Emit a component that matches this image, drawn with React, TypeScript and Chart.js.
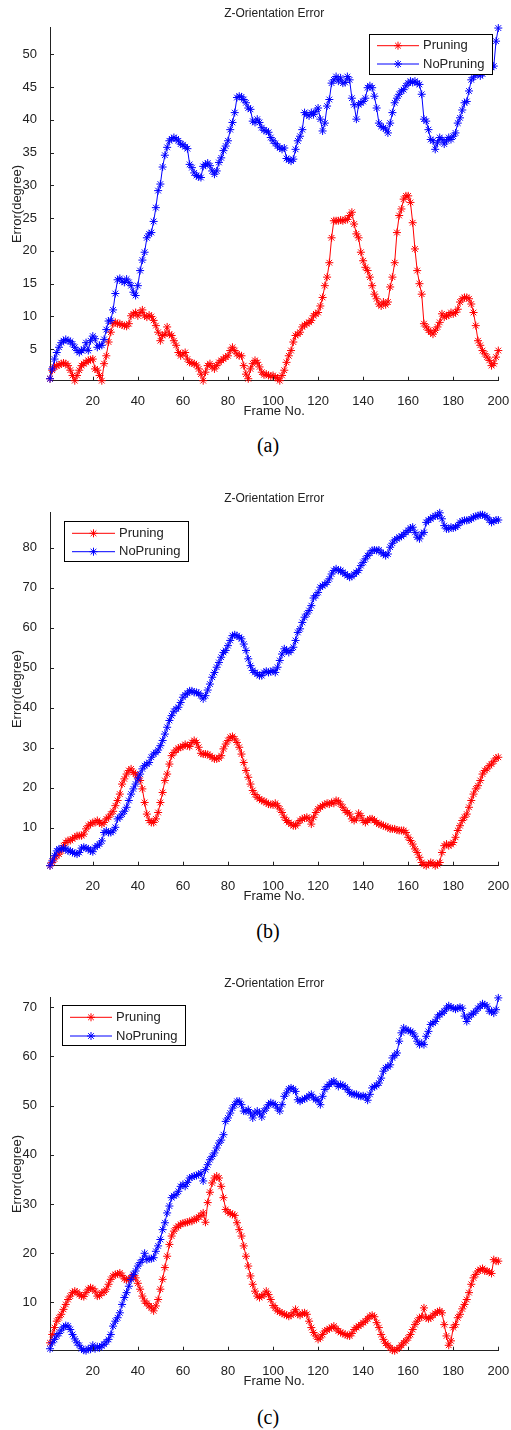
import React, { useEffect, useRef } from 'react';
import { Chart, registerables } from 'chart.js';

Chart.register(...registerables);

// ---------- data ----------
const FRAMES: number[] = Array.from({ length: 200 }, (_, i) => i + 1);
const X_TICKS = [20, 40, 60, 80, 100, 120, 140, 160, 180, 200];
const A_Y_TICKS = [5, 10, 15, 20, 25, 30, 35, 40, 45, 50];
const B_Y_TICKS = [10, 20, 30, 40, 50, 60, 70, 80];
const C_Y_TICKS = [10, 20, 30, 40, 50, 60, 70];
const SERIES_LABELS = ['Pruning', 'NoPruning'];
const CHART_TITLE = 'Z-Orientation Error';
const X_TITLE = 'Frame No.';
const Y_TITLE = 'Error(degree)';
const CAPTIONS = ['(a)', '(b)', '(c)'];

const A_PRUNING = [
  0.5, 1.8, 2.3, 2.5, 2.6, 2.8, 2.9, 2.8, 2.5, 1.8,
  1, 0.2, 1, 1.8, 2.5, 2.8, 3, 3.3, 3.4, 3.5,
  2, 1.8, 1, 0.2, 2.8, 4, 6.1, 7.6, 8.9, 9.1,
  8.9, 8.9, 8.7, 8.6, 8.5, 8.9, 10.1, 10.4, 10.6, 10.1,
  10.6, 11, 10.1, 9.9, 10.2, 10, 9.4, 8.6, 7.6, 6.3,
  7.1, 7.3, 8.4, 7.3, 7.1, 6.3, 5.6, 4.5, 4, 4.3,
  4.5, 3.5, 3, 2.9, 2.8, 2.6, 2, 1.2, 0.2, 1.5,
  2.5, 2.8, 2.3, 2, 2.5, 3, 3.3, 3.5, 3.8, 4,
  4.8, 5.3, 4.8, 4.3, 4, 4, 2.5, 1.2, 0.5, 2,
  2.8, 3.3, 3, 2.3, 1.5, 1.1, 1.2, 1, 0.9, 1,
  0.7, 0.6, 0.2, 1, 1.8, 3, 4, 4.8, 6.1, 7.1,
  7.3, 7.6, 8.4, 8.7, 8.9, 9.1, 9.4, 10.1, 10.4, 10.6,
  11.6, 12.9, 14.7, 16, 18.2, 22, 24.6, 24.6, 24.6, 24.7,
  24.6, 24.8, 24.8, 25.4, 25.9, 24.1, 22.6, 22, 19.8, 18.5,
  17.5, 17, 16, 14.7, 13.4, 12.7, 11.9, 11.6, 12.2, 11.8,
  12.2, 14.5, 16, 18.2, 22.8, 25.4, 26.4, 27.9, 28.4, 28.4,
  27.4, 24.3, 20.3, 17, 15, 13.4, 8.9, 8.4, 7.9, 7.6,
  7.3, 7.9, 8.4, 9.1, 10.4, 9.9, 10.1, 10.2, 10.6, 10.4,
  10.6, 11.1, 12.2, 12.7, 12.9, 12.9, 12.7, 11.9, 10.6, 8.6,
  6.3, 5.6, 4.8, 4.3, 3.8, 3.3, 2.5, 2.8, 3.8, 4.8,
];
const A_NOPRUNING = [
  0.5, 2, 3.5, 4.5, 5.3, 6, 6.3, 6.5, 6.3, 6.2,
  5.8, 5.3, 4.8, 4.5, 4.8, 5, 6, 4.8, 6.3, 7,
  6.6, 5.3, 5.6, 5.6, 6.5, 8, 9.3, 9.4, 11, 13.5,
  15.6, 15.8, 15.4, 15.2, 15.7, 15.2, 14.7, 13.7, 13.2, 14.7,
  17, 18.6, 19.8, 22, 22.6, 22.8, 24.5, 26.6, 29.2, 30.2,
  32.8, 34.6, 35.8, 36.8, 37.1, 37.3, 37.1, 36.8, 36.3, 36.2,
  35.9, 35.6, 33.2, 32.7, 31.9, 31.5, 31.3, 31.2, 32.9, 33.2,
  33.4, 33, 32.2, 31.7, 32.2, 33.5, 34.2, 35.3, 36, 36.8,
  38.5, 39.6, 41.1, 43.4, 43.6, 43.5, 43.1, 42.6, 41.8, 41.6,
  39.8, 39.6, 40.1, 39.6, 38.8, 38.4, 38.3, 38.1, 37.3, 36.8,
  36.4, 36, 35.7, 35.5, 35.7, 34.1, 33.9, 33.7, 34, 35.5,
  36.8, 37.5, 38.5, 41.1, 40.8, 40.6, 41.1, 40.8, 41.3, 41.8,
  40.1, 38.3, 39.5, 42.1, 43.1, 45.6, 46.1, 46.6, 45.9, 46.4,
  45.6, 45.7, 46.6, 46.1, 43.3, 42.3, 40.1, 42.3, 42.6, 42.8,
  43.3, 44.9, 45.2, 44.9, 43.6, 41.8, 39.5, 39, 38.8, 38.6,
  38, 39.5, 41.1, 42.6, 43.3, 43.9, 44.4, 44.6, 45.2, 45.6,
  45.9, 45.7, 45.9, 45.6, 45.4, 43.9, 40.1, 39.8, 38.5, 37,
  36.8, 35.5, 36.5, 37.3, 37, 36.3, 36.8, 37.3, 37, 37.5,
  38, 39.5, 40.3, 41.5, 42.6, 42.8, 44.4, 46.1, 46.5, 47,
  47, 46.7, 47, 47.5, 47.5, 48, 48, 48.2, 52, 54,
];

const B_PRUNING = [
  0.5, 1.3, 2.2, 3, 3.4, 4.2, 5.5, 6.3, 6.8, 6.8,
  7.2, 7.6, 8, 8, 8, 8.4, 9.7, 10.5, 10.9, 11.3,
  11.3, 11.8, 11.3, 10.9, 11.3, 12.2, 12.6, 13.4, 14.1, 15.5,
  16.8, 18.4, 20.9, 22.2, 23.4, 24.3, 24.7, 23.8, 23.4, 22.6,
  21.8, 19.7, 16.3, 13.4, 11.8, 11.3, 11.3, 12.2, 13.8, 16.3,
  18.8, 21.8, 23.4, 25.9, 28, 28.8, 29.4, 29.9, 30.1, 30.3,
  30.8, 30.5, 30.3, 31.3, 31.8, 31.3, 30.1, 28.6, 28.4, 28.4,
  28.3, 28, 27.6, 27.2, 27.2, 27.4, 28, 29.7, 30.9, 31.8,
  32.6, 32.8, 32.2, 31.3, 30.1, 28.4, 26.3, 24.3, 22.6, 20.9,
  19.3, 18.3, 17.6, 17.2, 16.8, 16.6, 16.3, 15.9, 15.8, 15.7,
  16.1, 15.5, 14.7, 13.8, 12.6, 11.8, 11.3, 10.9, 10.5, 10.5,
  11.1, 11.8, 12.2, 12.4, 12.6, 12.2, 10.9, 12.6, 13.8, 14.7,
  15.1, 15.5, 15.8, 16.1, 15.9, 16.3, 16.1, 16.8, 16.6, 15.9,
  15.1, 14.3, 13.8, 13.4, 12.2, 11.8, 12.2, 13.6, 13, 11.8,
  11.3, 11.8, 12.2, 12.2, 11.8, 11.3, 10.9, 10.8, 10.5, 10.3,
  10.1, 9.7, 9.7, 9.7, 9.4, 9.3, 9.3, 9.3, 8.8, 7.6,
  6.8, 5.9, 4.7, 3.8, 2.6, 1.3, 0.8, 0.5, 0.9, 1.3,
  1.1, 0.5, 0.8, 1.3, 3.8, 5.5, 5.9, 5.5, 5.8, 6.3,
  7.6, 9.3, 10.5, 11.8, 12.6, 13.4, 15.1, 16.8, 18.4, 19.7,
  20.5, 21.8, 23.4, 24.3, 24.7, 25.5, 25.9, 26.6, 27.4, 27.6,
];
const B_NOPRUNING = [
  0.5, 1.7, 3, 4.2, 4.7, 4.7, 4.9, 4.7, 4.2, 4.2,
  3.8, 3.6, 3.4, 3.8, 4.9, 5.1, 4.9, 4.7, 4.2, 4,
  5.1, 5.5, 5.9, 6.7, 8.8, 9.2, 8.8, 8.8, 9.2, 10.1,
  12.2, 12.6, 13.4, 14.1, 15.1, 16.8, 18.4, 19.7, 20.9, 22.2,
  23.4, 24.7, 25.5, 25.9, 26.3, 27.6, 28.4, 28.8, 29.4, 30.5,
  31.8, 33.4, 35.1, 36.8, 38, 39.1, 39.7, 40.1, 41.3, 42.6,
  43.2, 43.6, 44.2, 44.2, 43.8, 43.8, 43.6, 43, 42.2, 43,
  44.4, 45.9, 47.6, 48.8, 50.1, 51.3, 52.6, 53.8, 54.3, 55.5,
  56.8, 58, 58.2, 58, 57.6, 57.2, 55.9, 54.3, 52.2, 50.5,
  49.3, 48.8, 48.4, 48, 48, 48.8, 49.1, 48.8, 49, 49.3,
  48.8, 50.1, 51.8, 53.4, 54.7, 54.3, 53.8, 54.3, 55.1, 56.8,
  58.8, 59.7, 61.3, 62.6, 63.4, 64.3, 65.5, 67.4, 68, 68.8,
  70.1, 70.5, 70.8, 71.3, 72.2, 73.4, 74.3, 74.7, 74.3, 74.3,
  73.8, 73.4, 73, 72.6, 72.8, 73.4, 73.8, 74.3, 75.5, 76.3,
  77.2, 78, 78.6, 79.3, 79.4, 79.3, 79.4, 78.8, 78.4, 78,
  78.4, 80.1, 81.1, 81.9, 82.2, 82.6, 82.8, 83.3, 83.8, 84.3,
  84.9, 85.1, 83.8, 82.6, 82.2, 83.4, 83.8, 86.3, 86.9, 87.2,
  87.6, 88, 88, 88.7, 87.2, 85.5, 84.7, 84.7, 85.1, 84.9,
  85.1, 85.5, 86.3, 86.6, 86.8, 86.8, 86.9, 87.2, 87.6, 87.8,
  88, 88.2, 88.2, 88, 87.6, 86.9, 86.3, 86.6, 86.9, 86.9,
];

const C_PRUNING = [
  1.8, 3.5, 4.9, 6.2, 6.9, 7.6, 8.6, 9.6, 10.6, 11.3,
  12, 12.3, 12.1, 11.6, 11.3, 11.2, 12, 12.7, 13, 12.8,
  12.3, 11.3, 11.4, 12, 12.1, 12.7, 13.7, 14.7, 15.4, 15.7,
  15.8, 16, 15.5, 14.8, 14.6, 14.7, 15, 15.5, 15, 13.9,
  12.7, 11.3, 10.3, 9.8, 9.3, 8.9, 8.3, 9.3, 10.6, 12.7,
  14.7, 17.1, 19.4, 21.8, 23.5, 24.5, 25.2, 25.5, 25.9, 26.1,
  26.2, 26.3, 26.5, 26.5, 26.9, 26.9, 27.4, 27.7, 28.2, 26.3,
  30.3, 32.4, 34.3, 35.3, 35.7, 35.3, 33.6, 31.3, 28.9, 28.4,
  28.1, 27.9, 27.7, 26.2, 24.8, 23.5, 21.5, 19.4, 17.4, 15.4,
  13.7, 12.3, 11.3, 11, 11.3, 11.6, 12.3, 11.6, 10.6, 9.4,
  8.9, 8.3, 8.1, 7.8, 7.6, 7.4, 7.2, 7.4, 7.9, 8.6,
  7.6, 7.4, 7.8, 7.9, 7.6, 6.2, 4.9, 3.9, 3.2, 2.5,
  2.8, 3.5, 4.2, 4.4, 4.7, 4.9, 5.2, 4.7, 4.2, 3.9,
  3.7, 3.5, 3.3, 3.2, 3.7, 4.5, 4.9, 5.2, 5.5, 5.9,
  6.2, 6.7, 7.2, 7.4, 7.1, 5.9, 4.9, 3.5, 2.5, 1.7,
  1.3, 0.8, 0.3, 0.2, 0.5, 0.8, 1.3, 1.8, 2.2, 2.8,
  3.5, 4.5, 5.5, 6.2, 6.9, 7.1, 8.9, 6.9, 6.7, 6.9,
  7.4, 7.8, 8.1, 8.3, 7.9, 5.5, 3.2, 1.3, 2.2, 4.9,
  5.5, 6.9, 7.6, 8.7, 9.6, 10.6, 12, 13.7, 15, 15.7,
  16.4, 16.7, 16.9, 16.4, 16.4, 16.2, 15.9, 18.7, 18.4, 18.4,
];
const C_NOPRUNING = [
  0.6, 1.8, 2.5, 3.2, 3.7, 4.4, 5, 5.3, 5.2, 4.5,
  3.5, 2.6, 1.8, 1.3, 0.6, 0.3, 0.2, 0.6, 0.5, 1.3,
  0.6, 1, 0.8, 1.2, 1.5, 2, 2.5, 3.5, 5.2, 6.2,
  6.9, 7.9, 9.6, 11, 12, 13.3, 14.7, 15.7, 16.4, 17.4,
  18.1, 18.7, 20, 18.7, 18.9, 18.9, 19.1, 20.4, 21.5, 22.8,
  24.8, 26.2, 28.2, 29.6, 31.3, 31.7, 31.9, 32.6, 33.6, 34,
  33.6, 34.4, 35.3, 35.5, 35.7, 35.8, 36, 36.3, 34.7, 37,
  38, 39, 39.7, 40.4, 41.4, 42.4, 43, 44.1, 46.8, 47.5,
  48.5, 49.5, 50.2, 50.9, 50.9, 50.2, 48.9, 48.9, 49.2, 48.5,
  47.5, 48.5, 48.9, 48.5, 47.7, 48.9, 49.5, 50.2, 50.6, 50.4,
  50.2, 49.5, 48.9, 50.2, 51.9, 52.6, 53.4, 53.6, 53.4, 52.9,
  51.2, 50.9, 51.2, 51.4, 51.6, 52, 52.3, 51.6, 51.2, 51.1,
  50.2, 51.9, 53.3, 53.9, 54.3, 54.8, 55, 54.5, 53.9, 54.3,
  54.1, 53.8, 53.3, 52.7, 52.4, 52.3, 52.3, 52, 51.9, 52,
  51.8, 51.1, 52.3, 53.6, 53.9, 54.1, 54.6, 55.6, 57, 57.7,
  57.9, 58.3, 59.7, 60.2, 60.7, 63.1, 64.8, 65.8, 65.4, 65.3,
  65.1, 64.8, 64.1, 63.1, 62.4, 62.7, 62.4, 64.1, 65.1, 66.5,
  66.8, 67.1, 68, 68.5, 68.8, 69.2, 69.8, 70.3, 70, 69.8,
  69.6, 69.8, 70, 69.8, 68.2, 67.1, 68, 68.5, 68.8, 69.2,
  69.8, 70.2, 70.7, 70.5, 70.2, 69.2, 69.2, 68.8, 69.5, 71.9,
];

// ---------- styling / layout ----------
const RED = '#ff0000';
const BLUE = '#0000ff';
const INK = '#222222';
const SANS = '"Liberation Sans", Arial, sans-serif';
const CANVAS_W = 511;
const CANVAS_H = 425;

type LegendSpec = { x: number; y: number; w: number; h: number; l0: number; l1: number; tx: number; rows: number[] };
type PanelSpec = {
  top: number;
  pruning: number[];
  noPruning: number[];
  yMin: number;
  yMax: number;
  yTicks: number[];
  legend: LegendSpec;
};

const PANELS: PanelSpec[] = [
  { top: 0, pruning: A_PRUNING, noPruning: A_NOPRUNING, yMin: 0.2, yMax: 54.1, yTicks: A_Y_TICKS,
    legend: { x: 369.5, y: 34.5, w: 123, h: 40, l0: 377, l1: 419, tx: 423, rows: [45.7, 64] } },
  { top: 485, pruning: B_PRUNING, noPruning: B_NOPRUNING, yMin: 0.5, yMax: 88.8, yTicks: B_Y_TICKS,
    legend: { x: 64.5, y: 36.5, w: 124, h: 40, l0: 72, l1: 115, tx: 119, rows: [48.3, 66.7] } },
  { top: 970, pruning: C_PRUNING, noPruning: C_NOPRUNING, yMin: 0.2, yMax: 72, yTicks: C_Y_TICKS,
    legend: { x: 62.5, y: 35.5, w: 123, h: 40, l0: 70, l1: 112, tx: 116, rows: [47.3, 66] } },
];
const CAPTION_TOPS = [435, 921, 1407];

function drawStar(ctx: CanvasRenderingContext2D, cx: number, cy: number, r: number) {
  const d = r * Math.SQRT1_2;
  ctx.moveTo(cx - r, cy); ctx.lineTo(cx + r, cy);
  ctx.moveTo(cx, cy - r); ctx.lineTo(cx, cy + r);
  ctx.moveTo(cx - d, cy - d); ctx.lineTo(cx + d, cy + d);
  ctx.moveTo(cx - d, cy + d); ctx.lineTo(cx + d, cy - d);
}

const matlabAxes = {
  id: 'matlabAxes',
  afterDraw(chart: any, _args: any, opts: any) {
    const ctx: CanvasRenderingContext2D = chart.ctx;
    const xs = chart.scales.x;
    const ys = chart.scales.y;
    const area = chart.chartArea;
    ctx.save();
    // inward tick marks
    ctx.strokeStyle = INK;
    ctx.lineWidth = 1;
    ctx.beginPath();
    xs.ticks.forEach((t: any) => {
      const px = Math.round(xs.getPixelForValue(t.value)) + 0.5;
      ctx.moveTo(px, area.bottom);
      ctx.lineTo(px, area.bottom - 4);
    });
    ys.ticks.forEach((t: any) => {
      const py = Math.round(ys.getPixelForValue(t.value)) + 0.5;
      ctx.moveTo(area.left, py);
      ctx.lineTo(area.left + 4, py);
    });
    ctx.stroke();
    // inset legend
    const L: LegendSpec | undefined = opts && opts.legend;
    if (L) {
      ctx.fillStyle = '#ffffff';
      ctx.fillRect(L.x, L.y, L.w, L.h);
      ctx.strokeStyle = '#000000';
      ctx.strokeRect(L.x, L.y, L.w, L.h);
      chart.data.datasets.forEach((ds: any, i: number) => {
        const y = L.rows[i];
        ctx.strokeStyle = ds.borderColor;
        ctx.lineWidth = 1;
        ctx.beginPath();
        ctx.moveTo(L.l0, y);
        ctx.lineTo(L.l1, y);
        drawStar(ctx, (L.l0 + L.l1) / 2, y, 4);
        ctx.stroke();
        ctx.fillStyle = INK;
        ctx.font = `13px ${SANS}`;
        ctx.textBaseline = 'middle';
        ctx.textAlign = 'left';
        ctx.fillText(ds.label, L.tx, y);
      });
    }
    ctx.restore();
  },
};

function makeConfig(p: PanelSpec): any {
  const font = { family: SANS, size: 13, weight: 'normal' as const };
  const mk = (label: string, data: number[], color: string, order: number) => ({
    label,
    data,
    borderColor: color,
    backgroundColor: color,
    borderWidth: 1,
    pointStyle: 'star',
    pointRadius: 4,
    pointBorderWidth: 1,
    pointBorderColor: color,
    pointBackgroundColor: color,
    tension: 0,
    order,
    clip: false,
  });
  return {
    type: 'line',
    data: {
      labels: FRAMES,
      datasets: [mk(SERIES_LABELS[0], p.pruning, RED, 1), mk(SERIES_LABELS[1], p.noPruning, BLUE, 0)],
    },
    plugins: [matlabAxes],
    options: {
      responsive: false,
      animation: false,
      devicePixelRatio: 1,
      events: [],
      layout: { padding: { left: 0, right: 12.7, top: 0, bottom: 0 } },
      plugins: {
        legend: { display: false },
        tooltip: { enabled: false },
        title: {
          display: true,
          text: CHART_TITLE,
          fullSize: false,
          color: INK,
          font: { family: SANS, size: 12, weight: 'normal' },
          padding: { top: 6, bottom: 7 },
        },
        matlabAxes: { legend: p.legend },
      },
      scales: {
        x: {
          type: 'linear',
          min: 1,
          max: 200,
          afterBuildTicks: (s: any) => { s.ticks = X_TICKS.map((v) => ({ value: v })); },
          afterFit: (s: any) => { s.height = 44.3; s.paddingLeft = 0; s.paddingRight = 0; },
          grid: { display: false },
          border: { display: true, color: INK, width: 1 },
          ticks: { color: INK, font, padding: 5, autoSkip: false, maxRotation: 0 },
          title: { display: true, text: X_TITLE, color: INK, font, padding: { top: 0, bottom: 5.5 } },
        },
        y: {
          type: 'linear',
          min: p.yMin,
          max: p.yMax,
          afterBuildTicks: (s: any) => { s.ticks = p.yTicks.map((v) => ({ value: v })); },
          afterFit: (s: any) => { s.width = 50; s.paddingTop = 0; s.paddingBottom = 0; },
          grid: { display: false },
          border: { display: true, color: INK, width: 1 },
          ticks: { color: INK, font, padding: 5, autoSkip: false },
          title: { display: true, text: Y_TITLE, color: INK, font, padding: { top: 10, bottom: 0 } },
        },
      },
    },
  };
}

function Panel({ spec }: { spec: PanelSpec }) {
  const ref = useRef<HTMLCanvasElement | null>(null);
  useEffect(() => {
    if (!ref.current) return;
    const chart = new Chart(ref.current, makeConfig(spec));
    return () => chart.destroy();
  }, [spec]);
  return (
    <canvas
      ref={ref}
      width={CANVAS_W}
      height={CANVAS_H}
      style={{ position: 'absolute', left: 0, top: spec.top, width: CANVAS_W, height: CANVAS_H }}
    />
  );
}

export default function App() {
  return (
    <div style={{ position: 'absolute', left: 0, top: 0, width: 511, height: 1430, background: '#ffffff', overflow: 'hidden' }}>
      {PANELS.map((p, i) => (
        <Panel key={i} spec={p} />
      ))}
      {CAPTIONS.map((c, i) => (
        <div
          key={c}
          style={{
            position: 'absolute',
            left: 0,
            width: 536,
            top: CAPTION_TOPS[i],
            textAlign: 'center',
            font: '20px "Liberation Serif", "Times New Roman", serif',
            lineHeight: '20px',
            color: '#000',
          }}
        >
          {c}
        </div>
      ))}
    </div>
  );
}
